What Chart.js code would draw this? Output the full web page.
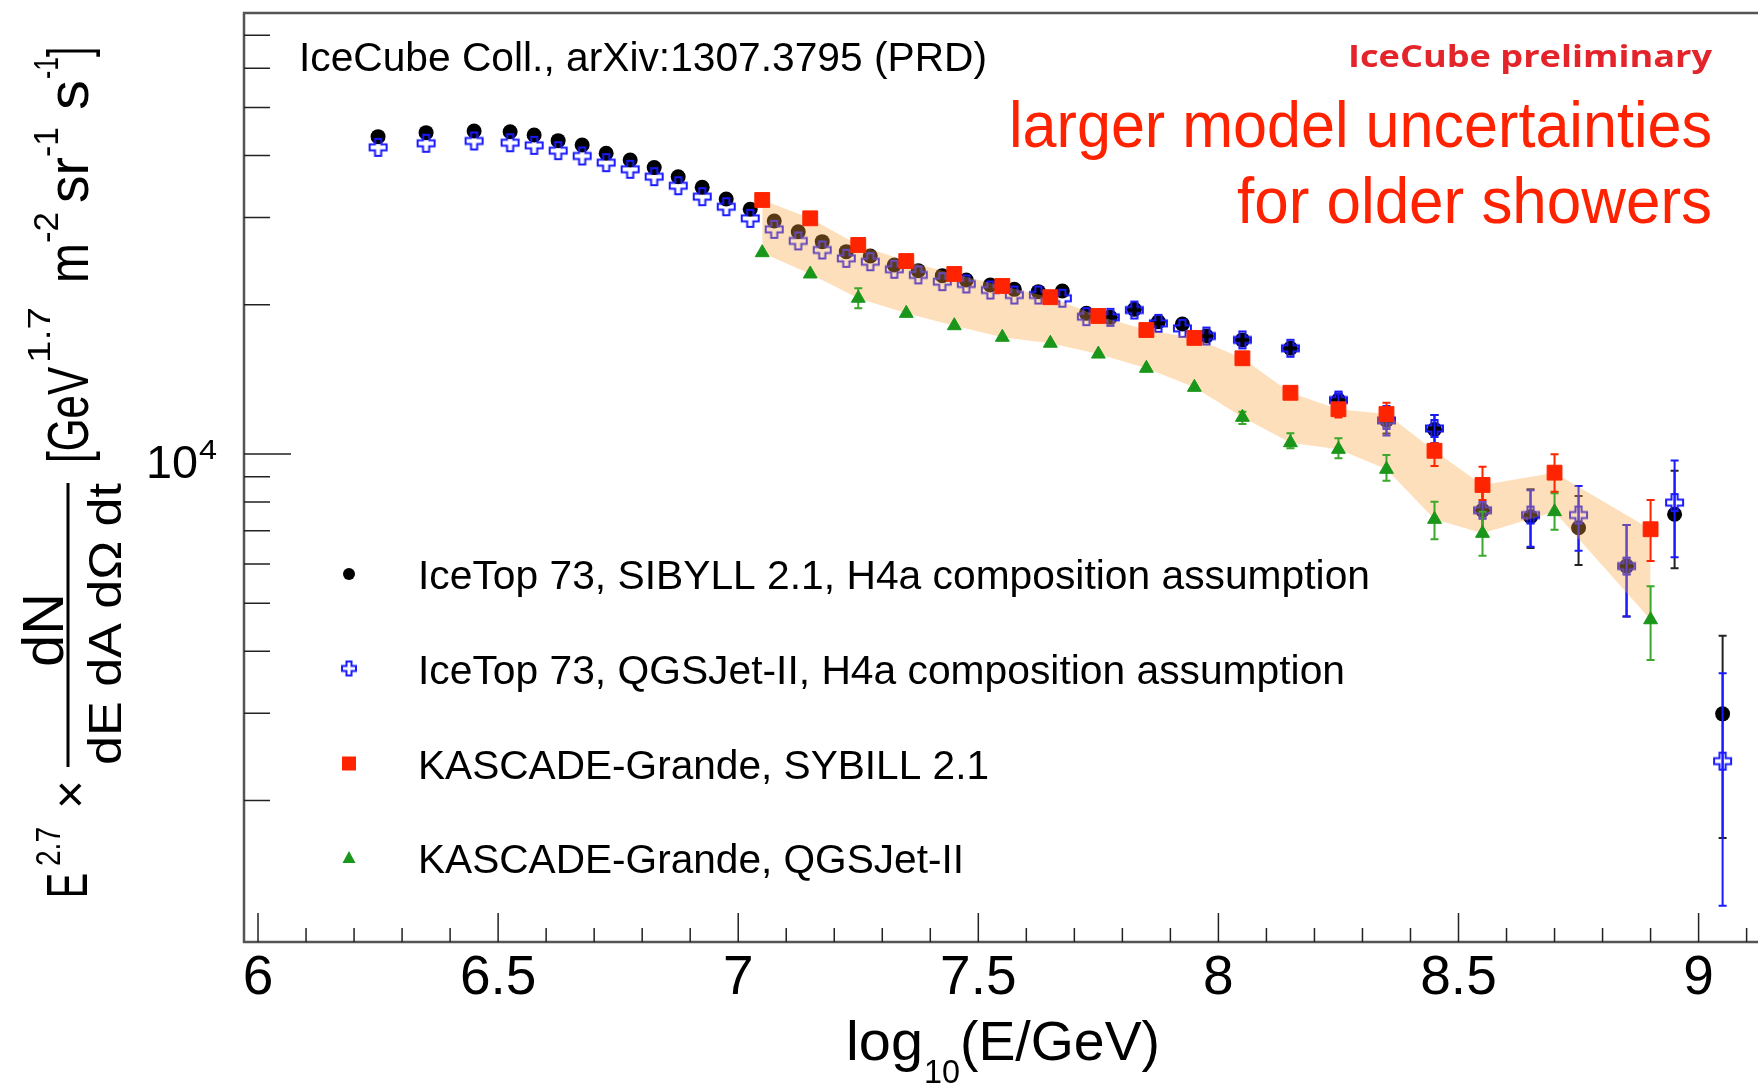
<!DOCTYPE html>
<html>
<head>
<meta charset="utf-8">
<title>IceTop 73 all-particle spectrum</title>
<script src="https://cdn.jsdelivr.net/npm/chart.js"></script>
<style>
  html, body { margin: 0; padding: 0; background: #fff; }
  canvas { display: block; }
</style>
</head>
<body>
<canvas id="chart" width="1758" height="1086"></canvas>
<script>
// IceTop 73 bins, log10(E/GeV)
const energyIT = [6.25, 6.35, 6.45, 6.525, 6.575, 6.625, 6.675, 6.725, 6.775, 6.825,
  6.875, 6.925, 6.975, 7.025, 7.075, 7.125, 7.175, 7.225, 7.275, 7.325,
  7.375, 7.425, 7.475, 7.525, 7.575, 7.625, 7.675, 7.725, 7.775, 7.825,
  7.875, 7.925, 7.975, 8.05, 8.15, 8.25, 8.35, 8.45, 8.55, 8.65, 8.75, 8.85, 8.95, 9.05];
// E^2.7 x flux, SIBYLL 2.1
const fluxSibyll = [43680, 44500, 44840, 44700, 44030, 42880, 42030, 40440, 39200, 37830,
  36270, 34520, 32700, 31170, 29520, 28090, 26820, 25600, 25090, 24060,
  23440, 22900, 22440, 21930, 21490, 21260, 21330, 19220, 18870, 19580,
  18490, 18290, 17300, 16990, 16340, 12850, 11700, 11210, 7700, 7470, 7100, 5940, 7560, 2990];
// E^2.7 x flux, QGSJet-II
const fluxQgsjet = [41570, 42360, 42810, 42470, 41960, 40930, 39930, 38710, 37540, 36270,
  34780, 33060, 31550, 29890, 28400, 26910, 25800, 24820, 24430, 23590,
  22980, 22270, 22030, 21420, 20930, 20930, 20620, 18930, 18870, 19520,
  18350, 17930, 17300, 16990, 16340, 12850, 11690, 11260, 7700, 7530, 7530, 5940, 7980, 2400];

// visible error bars of IceTop
const itErrEnergy = [8.25, 8.35, 8.45, 8.55, 8.65, 8.75, 8.85, 8.95, 9.05];
const sibyllErrLo = [12380, 11000, 10510, 6920, 6460, 5970, 4700, 5880, 1680];
const sibyllErrHi = [13230, 12300, 11990, 8540, 8490, 8230, 7190, 9250, 4300];
const qgsjetErrLo = [12380, 10900, 10510, 6930, 6500, 6380, 4700, 6190, 1226];
const qgsjetErrHi = [13230, 12500, 11990, 8540, 8450, 8620, 7190, 9700, 3610];

// KASCADE-Grande
const energyKG = [7.05, 7.15, 7.25, 7.35, 7.45, 7.55, 7.65, 7.75, 7.85, 7.95,
  8.05, 8.15, 8.25, 8.35, 8.45, 8.55, 8.7, 8.9];
const fluxKGSibyll = [32550, 29890, 26410, 24510, 23080, 21830, 20720, 18990, 17790, 17150,
  15600, 13290, 12310, 12040, 10150, 8660, 9170, 7050];
const fluxKGQgsjet = [25480, 23080, 20620, 19220, 18150, 17200, 16730, 15910, 14890, 13630,
  11860, 10540, 10220, 9314, 7382, 6918, 7650, 4630];

const kgSibyllErrEnergy = [8.25, 8.35, 8.45, 8.55, 8.7, 8.9];
const kgSibyllErrLo = [11850, 11800, 9460, 8080, 8390, 6080];
const kgSibyllErrHi = [12560, 12690, 10510, 9430, 9990, 8080];
const kgQgsjetErrEnergy = [7.25, 8.05, 8.15, 8.25, 8.35, 8.45, 8.55, 8.7, 8.9];
const kgQgsjetErrLo = [19680, 11500, 10270, 9800, 8834, 6730, 6230, 7030, 3840];
const kgQgsjetErrHi = [21600, 12170, 11010, 10760, 9950, 8010, 7650, 8330, 5410];

// axes
const xTickValues = [6, 6.5, 7, 7.5, 8, 8.5, 9];
const xTickLabels = ['6', '6.5', '7', '7.5', '8', '8.5', '9'];
const yMinorTicks = [2000, 3000, 4000, 5000, 6000, 7000, 8000, 9000, 20000, 30000, 40000, 50000, 60000, 70000];
const yMajorTick = 10000;

const legendLabels = [
  'IceTop 73, SIBYLL 2.1, H4a composition assumption',
  'IceTop 73, QGSJet-II, H4a composition assumption',
  'KASCADE-Grande, SYBILL 2.1',
  'KASCADE-Grande, QGSJet-II'
];

const BLACK = '#000000';
const BLUE = '#1a1aff';
const RED = '#ff2400';
const GREEN = '#1a961a';
const BAND = 'rgba(250, 165, 60, 0.35)';
const FONT = '"Liberation Sans", Arial, sans-serif';

function toPoints(xs, ys) {
  return xs.map((x, i) => ({ x: x, y: ys[i] }));
}

// open cross marker (ROOT style 28)
function makeCross(size, color) {
  const c = document.createElement('canvas');
  c.width = c.height = size + 4;
  const g = c.getContext('2d');
  const m = (size + 4) / 2, h = size / 2, a = size * 0.18;
  g.strokeStyle = color;
  g.lineWidth = 2;
  g.beginPath();
  g.moveTo(m - a, m - h); g.lineTo(m + a, m - h); g.lineTo(m + a, m - a);
  g.lineTo(m + h, m - a); g.lineTo(m + h, m + a); g.lineTo(m + a, m + a);
  g.lineTo(m + a, m + h); g.lineTo(m - a, m + h); g.lineTo(m - a, m + a);
  g.lineTo(m - h, m + a); g.lineTo(m - h, m - a); g.lineTo(m - a, m - a);
  g.closePath();
  g.stroke();
  return c;
}
const crossMarker = makeCross(17, BLUE);
const crossLegend = makeCross(14, BLUE);

// dataset index -> error bars
const errorBars = {
  0: { e: itErrEnergy, lo: sibyllErrLo, hi: sibyllErrHi, color: '#222' },
  1: { e: itErrEnergy, lo: qgsjetErrLo, hi: qgsjetErrHi, color: BLUE },
  4: { e: kgSibyllErrEnergy, lo: kgSibyllErrLo, hi: kgSibyllErrHi, color: RED },
  5: { e: kgQgsjetErrEnergy, lo: kgQgsjetErrLo, hi: kgQgsjetErrHi, color: '#3aa82a' }
};

function drawErrors(chart, eb) {
  const { ctx, scales: { x, y } } = chart;
  ctx.save();
  ctx.strokeStyle = eb.color;
  ctx.lineWidth = 2;
  ctx.beginPath();
  eb.e.forEach((e, i) => {
    const px = x.getPixelForValue(e);
    const top = y.getPixelForValue(eb.hi[i]);
    const bot = y.getPixelForValue(eb.lo[i]);
    ctx.moveTo(px, top); ctx.lineTo(px, bot);
    ctx.moveTo(px - 4, top); ctx.lineTo(px + 4, top);
    ctx.moveTo(px - 4, bot); ctx.lineTo(px + 4, bot);
  });
  ctx.stroke();
  ctx.restore();
}

// text squeezed/stretched to a given width
function put(ctx, text, x, y, font, width) {
  ctx.font = font;
  const m = ctx.measureText(text).width;
  ctx.save();
  ctx.translate(x, y);
  ctx.scale(width / m, 1);
  ctx.fillText(text, 0, 0);
  ctx.restore();
}

const decorations = {
  id: 'decorations',
  beforeDatasetDraw(chart, args) {
    if (errorBars[args.index]) drawErrors(chart, errorBars[args.index]);
  },
  afterDraw(chart) {
    const { ctx, chartArea: a, scales: { x, y } } = chart;
    ctx.save();
    ctx.textAlign = 'left';
    ctx.textBaseline = 'alphabetic';

    // frame
    ctx.strokeStyle = '#555';
    ctx.lineWidth = 2.5;
    ctx.beginPath();
    ctx.moveTo(a.right, a.top);
    ctx.lineTo(a.left, a.top);
    ctx.lineTo(a.left, a.bottom);
    ctx.lineTo(a.right, a.bottom);
    ctx.stroke();

    // ticks pointing inwards
    ctx.strokeStyle = '#222';
    ctx.lineWidth = 1.5;
    ctx.beginPath();
    for (let i = 60; i <= 91; i++) {
      const px = x.getPixelForValue(i / 10);
      ctx.moveTo(px, a.bottom);
      ctx.lineTo(px, a.bottom - (i % 5 === 0 ? 29 : 14));
    }
    yMinorTicks.forEach(v => {
      const py = y.getPixelForValue(v);
      ctx.moveTo(a.left, py);
      ctx.lineTo(a.left + 26, py);
    });
    const pMaj = y.getPixelForValue(yMajorTick);
    ctx.moveTo(a.left, pMaj);
    ctx.lineTo(a.left + 47, pMaj);
    ctx.stroke();

    // tick labels
    ctx.fillStyle = '#000';
    ctx.textAlign = 'center';
    ctx.font = '55px ' + FONT;
    xTickValues.forEach((v, i) => ctx.fillText(xTickLabels[i], x.getPixelForValue(v), 994));
    ctx.textAlign = 'left';
    put(ctx, '10', 146, pMaj + 24, '47px ' + FONT, 52);
    put(ctx, '4', 199, pMaj + 5, '28px ' + FONT, 18);

    // x title
    put(ctx, 'log', 846, 1060, '55px ' + FONT, 77);
    put(ctx, '10', 924, 1083, '33px ' + FONT, 36);
    put(ctx, '(E/GeV)', 960, 1060, '55px ' + FONT, 200);

    // y title, rotated
    ctx.save();
    ctx.translate(0, 900);
    ctx.rotate(-Math.PI / 2);
    put(ctx, 'E', 2, 87, '58px ' + FONT, 25);
    put(ctx, '2.7', 34, 60, '35px ' + FONT, 39);
    put(ctx, '\u00d7', 91, 87, '50px ' + FONT, 29);
    ctx.fillRect(133, 66.5, 284, 3);
    put(ctx, 'dN', 233, 63, '58px ' + FONT, 74);
    put(ctx, 'dE dA d\u03a9 dt', 135, 121, '46px ' + FONT, 282);
    put(ctx, '[GeV', 437, 88, '57px ' + FONT, 96);
    put(ctx, '1.7', 537, 50, '32px ' + FONT, 56);
    put(ctx, 'm', 617, 88, '57px ' + FONT, 40);
    put(ctx, '-2', 657, 58, '35px ' + FONT, 31);
    put(ctx, 'sr', 697, 88, '57px ' + FONT, 46);
    put(ctx, '-1', 743, 58, '35px ' + FONT, 30);
    put(ctx, 's', 790, 88, '57px ' + FONT, 30);
    put(ctx, '-1', 821, 58, '35px ' + FONT, 22);
    put(ctx, ']', 843, 88, '57px ' + FONT, 10);
    ctx.restore();

    // annotations
    put(ctx, 'IceCube Coll., arXiv:1307.3795 (PRD)', 299, 71, '41px ' + FONT, 688);
    ctx.fillStyle = '#e3242b';
    put(ctx, 'IceCube preliminary', 1712 - 364, 67, 'bold 31px "Open Sans", sans-serif', 364);
    ctx.fillStyle = '#ff2200';
    put(ctx, 'larger model uncertainties', 1712 - 703, 147, '65px ' + FONT, 703);
    put(ctx, 'for older showers', 1712 - 475, 223, '65px ' + FONT, 475);

    // legend
    const rows = [574, 668.5, 763.5, 858];
    const widths = [952, 927, 571, 546];
    const mx = 349;
    ctx.fillStyle = BLACK;
    ctx.beginPath();
    ctx.arc(mx, rows[0], 6, 0, Math.PI * 2);
    ctx.fill();
    ctx.drawImage(crossLegend, mx - crossLegend.width / 2, rows[1] - crossLegend.height / 2);
    ctx.fillStyle = RED;
    ctx.fillRect(mx - 7, rows[2] - 7, 14, 14);
    ctx.fillStyle = GREEN;
    ctx.beginPath();
    ctx.moveTo(mx, rows[3] - 7);
    ctx.lineTo(mx + 6.5, rows[3] + 5);
    ctx.lineTo(mx - 6.5, rows[3] + 5);
    ctx.closePath();
    ctx.fill();
    ctx.fillStyle = '#000';
    legendLabels.forEach((t, i) => put(ctx, t, 418, rows[i] + 15, '41px ' + FONT, widths[i]));

    ctx.restore();
  }
};

new Chart(document.getElementById('chart'), {
  type: 'scatter',
  data: {
    datasets: [
      {
        label: legendLabels[0],
        data: toPoints(energyIT, fluxSibyll),
        pointStyle: 'circle',
        pointRadius: 7.5,
        pointBackgroundColor: BLACK,
        pointBorderWidth: 0,
        order: 4
      },
      {
        label: legendLabels[1],
        data: toPoints(energyIT, fluxQgsjet),
        pointStyle: crossMarker,
        pointRadius: 8,
        order: 3
      },
      {
        label: 'band upper',
        data: toPoints(energyKG, fluxKGSibyll),
        showLine: true,
        borderColor: 'transparent',
        borderWidth: 0,
        pointRadius: 0,
        backgroundColor: BAND,
        fill: '+1',
        order: 2
      },
      {
        label: 'band lower',
        data: toPoints(energyKG, fluxKGQgsjet),
        showLine: true,
        borderColor: 'transparent',
        borderWidth: 0,
        pointRadius: 0,
        fill: false,
        order: 2
      },
      {
        label: legendLabels[2],
        data: toPoints(energyKG, fluxKGSibyll),
        pointStyle: 'rect',
        pointRadius: 10.5,
        pointBackgroundColor: RED,
        pointBorderColor: RED,
        pointBorderWidth: 1,
        order: 1
      },
      {
        label: legendLabels[3],
        data: toPoints(energyKG, fluxKGQgsjet),
        pointStyle: 'triangle',
        pointRadius: 8,
        pointBackgroundColor: GREEN,
        pointBorderColor: GREEN,
        pointBorderWidth: 1,
        order: 1
      }
    ]
  },
  options: {
    responsive: false,
    animation: false,
    events: [],
    layout: { autoPadding: false, padding: { left: 244, top: 13, right: 0, bottom: 144 } },
    plugins: {
      legend: { display: false },
      tooltip: { enabled: false },
      filler: { propagate: false }
    },
    scales: {
      x: { type: 'linear', min: 5.9708, max: 9.1237, bounds: 'data', display: false },
      y: { type: 'logarithmic', min: 1036, max: 77590, bounds: 'data', display: false }
    }
  },
  plugins: [decorations]
});
</script>
</body>
</html>
